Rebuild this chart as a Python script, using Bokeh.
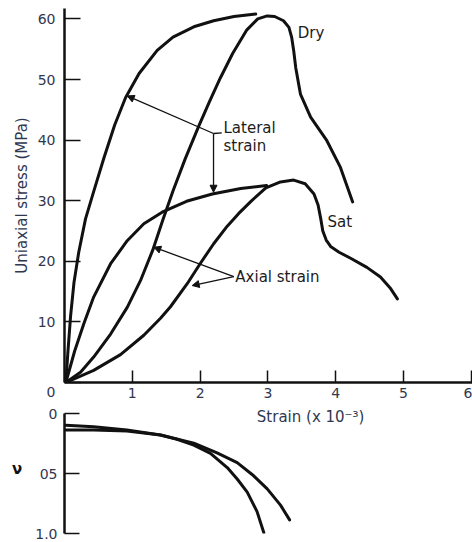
from bokeh.plotting import figure
from bokeh.layouts import column
from bokeh.models import Range1d, FixedTicker, Label, Arrow, NormalHead
from bokeh.embed import file_html
from bokeh.resources import INLINE

# ---------------- data (strain in 1e-3, stress in MPa) ----------------
dry_lateral_strain = [0.02, 0.05, 0.09, 0.14, 0.21, 0.31, 0.43, 0.58, 0.74, 0.9, 1.1, 1.367, 1.6, 1.907, 2.2, 2.5, 2.82]
dry_lateral_stress = [0, 5.0, 11.0, 16.5, 21.5, 27.0, 31.5, 37.0, 42.5, 47.0, 51.0, 54.8, 57.0, 58.7, 59.7, 60.4, 60.8]

dry_axial_strain = [0.02, 0.236, 0.43, 0.68, 0.925, 1.12, 1.3, 1.45, 1.6, 1.78, 1.98, 2.14, 2.30, 2.48, 2.69, 2.85, 2.99,
                    3.1, 3.23, 3.31, 3.35, 3.38, 3.41, 3.48, 3.63, 3.87, 4.07, 4.25]
dry_axial_stress = [0, 1.7, 4.2, 8.0, 12.4, 16.8, 21.8, 26.8, 31.6, 36.9, 42.3, 46.4, 50.3, 54.3, 58.2, 60.0, 60.5,
                    60.4, 59.7, 58.6, 57.0, 54.8, 52.0, 47.6, 43.8, 39.9, 35.5, 29.8]

sat_lateral_strain = [0.02, 0.15, 0.285, 0.43, 0.68, 0.925, 1.17, 1.44, 1.8, 2.18, 2.6, 2.98]
sat_lateral_stress = [0, 5.2, 9.7, 14.1, 19.6, 23.4, 26.2, 28.1, 29.9, 31.1, 32.0, 32.5]

sat_axial_strain = [0.02, 0.43, 0.826, 1.17, 1.416, 1.563, 1.81, 2.0, 2.2, 2.4, 2.57, 2.75, 2.97, 3.186, 3.38,
                    3.55, 3.68, 3.74, 3.78, 3.81, 3.86, 3.93, 4.05, 4.22, 4.46, 4.66, 4.81, 4.91]
sat_axial_stress = [0, 2.0, 4.6, 7.8, 10.6, 12.5, 16.3, 19.6, 22.9, 25.8, 27.9, 29.9, 32.1, 33.1, 33.4,
                    32.8, 31.1, 29.3, 27.0, 25.0, 23.5, 22.4, 21.5, 20.5, 19.0, 17.4, 15.5, 13.8]

# Poisson's ratio (lower panel)
dry_nu_strain = [0.02, 0.43, 0.92, 1.416, 1.66, 1.907, 2.153, 2.40, 2.547, 2.695, 2.84, 2.94]
dry_nu = [0.096, 0.109, 0.136, 0.177, 0.213, 0.262, 0.33, 0.449, 0.545, 0.654, 0.817, 0.994]
sat_nu_strain = [0.02, 0.43, 0.92, 1.416, 1.907, 2.25, 2.547, 2.79, 2.99, 3.186, 3.32]
sat_nu = [0.136, 0.136, 0.144, 0.177, 0.245, 0.327, 0.408, 0.518, 0.627, 0.763, 0.886]

x_ticks = [1, 2, 3, 4, 5, 6]
stress_ticks = [0, 10, 20, 30, 40, 50, 60]
nu_ticks = [0, 0.5, 1.0]
nu_tick_labels = ["0", "05", "1.0"]

# annotation anchors (data units)
lateral_hub = (2.198, 41.09)
lateral_targets = [(0.925, 47.3), (2.198, 31.4)]
lateral_hook_x = [2.198, 2.32]
lateral_hook_y = [41.09, 41.2]
axial_hub = (2.497, 17.49)
axial_targets = [(1.317, 22.33), (1.883, 16.0)]

TXT = "#30384f"
INK = "#111111"
FONT = "DejaVu Sans"

# ---------------- main panel ----------------
p1 = figure(width=472, height=404, x_range=Range1d(0, 6.0177), y_range=Range1d(0, 61.72),
            output_backend="svg", toolbar_location=None,
            min_border_left=64, min_border_right=0, min_border_top=8, min_border_bottom=22)
p1.grid.visible = False
p1.outline_line_color = None

for xs, ys in [(dry_lateral_strain, dry_lateral_stress), (dry_axial_strain, dry_axial_stress),
               (sat_lateral_strain, sat_lateral_stress), (sat_axial_strain, sat_axial_stress)]:
    p1.line(xs, ys, line_color=INK, line_width=3, line_join="round", line_cap="round")

xa = p1.xaxis[0]
xa.ticker = FixedTicker(ticks=x_ticks)
xa.major_tick_in = 12
xa.major_tick_out = 0
xa.minor_tick_line_color = None
xa.axis_line_width = 2.5
xa.axis_line_color = INK
xa.major_tick_line_width = 1.5
xa.major_tick_line_color = INK
xa.major_label_standoff = 5
xa.major_label_text_font = FONT
xa.major_label_text_font_size = "14px"
xa.major_label_text_color = TXT

ya = p1.yaxis[0]
ya.ticker = FixedTicker(ticks=stress_ticks)
ya.major_label_overrides = {0: "\n0"}
ya.major_tick_in = 16
ya.major_tick_out = 0
ya.minor_tick_line_color = None
ya.axis_line_width = 2.5
ya.axis_line_color = INK
ya.major_tick_line_width = 1.5
ya.major_tick_line_color = INK
ya.major_label_standoff = 9
ya.major_label_text_font = FONT
ya.major_label_text_font_size = "14px"
ya.major_label_text_color = TXT
ya.axis_label = "Uniaxial stress (MPa)"
ya.axis_label_standoff = 4
ya.axis_label_text_font = FONT
ya.axis_label_text_font_size = "15px"
ya.axis_label_text_font_style = "normal"
ya.axis_label_text_color = TXT

head = dict(size=7, line_color=INK, fill_color=INK, line_width=1)
for tx, ty in lateral_targets:
    p1.add_layout(Arrow(end=NormalHead(**head), x_start=lateral_hub[0], y_start=lateral_hub[1],
                        x_end=tx, y_end=ty, line_width=1.3, line_color=INK))
p1.line(lateral_hook_x, lateral_hook_y, line_color=INK, line_width=1.3)
for tx, ty in axial_targets:
    p1.add_layout(Arrow(end=NormalHead(**head), x_start=axial_hub[0], y_start=axial_hub[1],
                        x_end=tx, y_end=ty, line_width=1.3, line_color=INK))

def note(p, x, y, t):
    p.add_layout(Label(x=x, y=y, text=t, text_align="left", text_baseline="middle",
                       text_font=FONT, text_font_size="15px", text_color="#1c1c1c"))

note(p1, 2.345, 42.0, "Lateral")
note(p1, 2.345, 39.1, "strain")
note(p1, 2.52, 17.49, "Axial strain")
note(p1, 3.44, 57.6, "Dry")
note(p1, 3.88, 26.5, "Sat")

# ---------------- Poisson's ratio panel ----------------
p2 = figure(width=472, height=138, x_range=p1.x_range, y_range=Range1d(1.0, -0.0775),
            x_axis_type=None, output_backend="svg", toolbar_location=None,
            min_border_left=64, min_border_right=0, min_border_top=0, min_border_bottom=9)
p2.grid.visible = False
p2.outline_line_color = None

p2.line(dry_nu_strain, dry_nu, line_color=INK, line_width=3, line_join="round", line_cap="round")
p2.line(sat_nu_strain, sat_nu, line_color=INK, line_width=3, line_join="round", line_cap="round")

ya2 = p2.yaxis[0]
ya2.ticker = FixedTicker(ticks=nu_ticks)
ya2.major_label_overrides = {t: s for t, s in zip(nu_ticks, nu_tick_labels)}
ya2.bounds = (0, 1)
ya2.major_tick_in = 15
ya2.major_tick_out = 0
ya2.minor_tick_line_color = None
ya2.axis_line_width = 2.5
ya2.axis_line_color = INK
ya2.major_tick_line_width = 1.5
ya2.major_tick_line_color = INK
ya2.major_label_standoff = 7
ya2.major_label_text_font = FONT
ya2.major_label_text_font_size = "14px"
ya2.major_label_text_color = TXT
ya2.axis_label = "ν"
ya2.axis_label_orientation = "horizontal"
ya2.axis_label_standoff = 10
ya2.axis_label_text_font = FONT
ya2.axis_label_text_font_size = "15px"
ya2.axis_label_text_font_style = "bold"
ya2.axis_label_text_color = INK

p2.add_layout(Label(x=3.63, y=0.03, text="Strain (x 10⁻³)", text_align="center", text_baseline="middle",
                    text_font=FONT, text_font_size="15px", text_color=TXT))

layout = column(p1, p2, spacing=0)
open("out.html", "w").write(file_html(layout, INLINE))
